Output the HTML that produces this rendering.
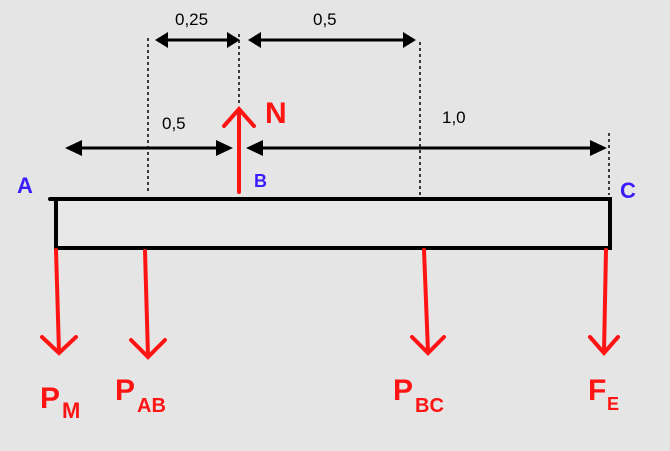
<!DOCTYPE html>
<html><head><style>
html,body{margin:0;padding:0;background:#e5e5e5;}
svg{display:block;}
text{font-family:"Liberation Sans",sans-serif;}
</style></head><body>
<svg width="670" height="451" viewBox="0 0 670 451">
<rect width="670" height="451" fill="#e5e5e5"/>
<g stroke="#000" stroke-width="1.5" stroke-dasharray="3,3">
<line x1="148" y1="38" x2="148" y2="194"/>
<line x1="239" y1="34" x2="239" y2="105"/>
<line x1="420" y1="42" x2="420" y2="195"/>
<line x1="609" y1="133" x2="609" y2="195"/>
</g>
<g stroke="#000" stroke-width="3">
<line x1="165" y1="40" x2="230" y2="40"/>
<line x1="258" y1="40" x2="405" y2="40"/>
<line x1="75" y1="148" x2="222" y2="148"/>
<line x1="256" y1="148" x2="596" y2="148"/>
</g>
<g fill="#000">
<polygon points="155,40 168,32 168,48"/><polygon points="240,40 227,32 227,48"/>
<polygon points="248,40 261,32 261,48"/><polygon points="416,40 403,32 403,48"/>
<polygon points="65,148 82,140 82,156"/><polygon points="233,148 216,140 216,156"/>
<polygon points="246,148 263,140 263,156"/><polygon points="607,148 590,140 590,156"/>
</g>
<g font-size="17" fill="#000">
<text x="175" y="25">0,25</text>
<text x="313" y="25">0,5</text>
<text x="162" y="129">0,5</text>
<text x="442" y="123">1,0</text>
</g>
<rect x="56" y="199" width="554" height="49" fill="#e8e8e8" stroke="#000" stroke-width="4"/>
<line x1="50" y1="199" x2="58" y2="199" stroke="#000" stroke-width="4" stroke-linecap="round"/>
<g stroke="#ff1414" stroke-width="4" fill="none" stroke-linecap="round">
<line x1="239" y1="192" x2="239" y2="110"/><polyline points="224,126 239,109 254,126"/>
<line x1="56" y1="250" x2="59" y2="352"/><polyline points="42,337 59,353 76,337"/>
<line x1="145" y1="251" x2="148" y2="356"/><polyline points="131,340 148,357 165,340"/>
<line x1="424" y1="250" x2="428" y2="352"/><polyline points="412,337 428,353 444,337"/>
<line x1="606" y1="250" x2="604" y2="352"/><polyline points="590,337 604,353 618,337"/>
</g>
<text x="265" y="123" font-size="30" fill="#ff1414" font-weight="bold">N</text>
<g fill="#3a1cff" font-weight="bold">
<text x="17" y="193" font-size="22">A</text>
<text x="254" y="187" font-size="18">B</text>
<text x="620" y="198" font-size="22">C</text>
</g>
<g fill="#ff1414" font-weight="bold">
<text x="40" y="408" font-size="30">P</text><text x="62" y="418" font-size="22">M</text>
<text x="115" y="400" font-size="30">P</text><text x="137" y="412" font-size="20">AB</text>
<text x="393" y="400" font-size="30">P</text><text x="415" y="412" font-size="20">BC</text>
<text x="588" y="400" font-size="30">F</text><text x="607" y="410" font-size="18">E</text>
</g>
</svg>
</body></html>
